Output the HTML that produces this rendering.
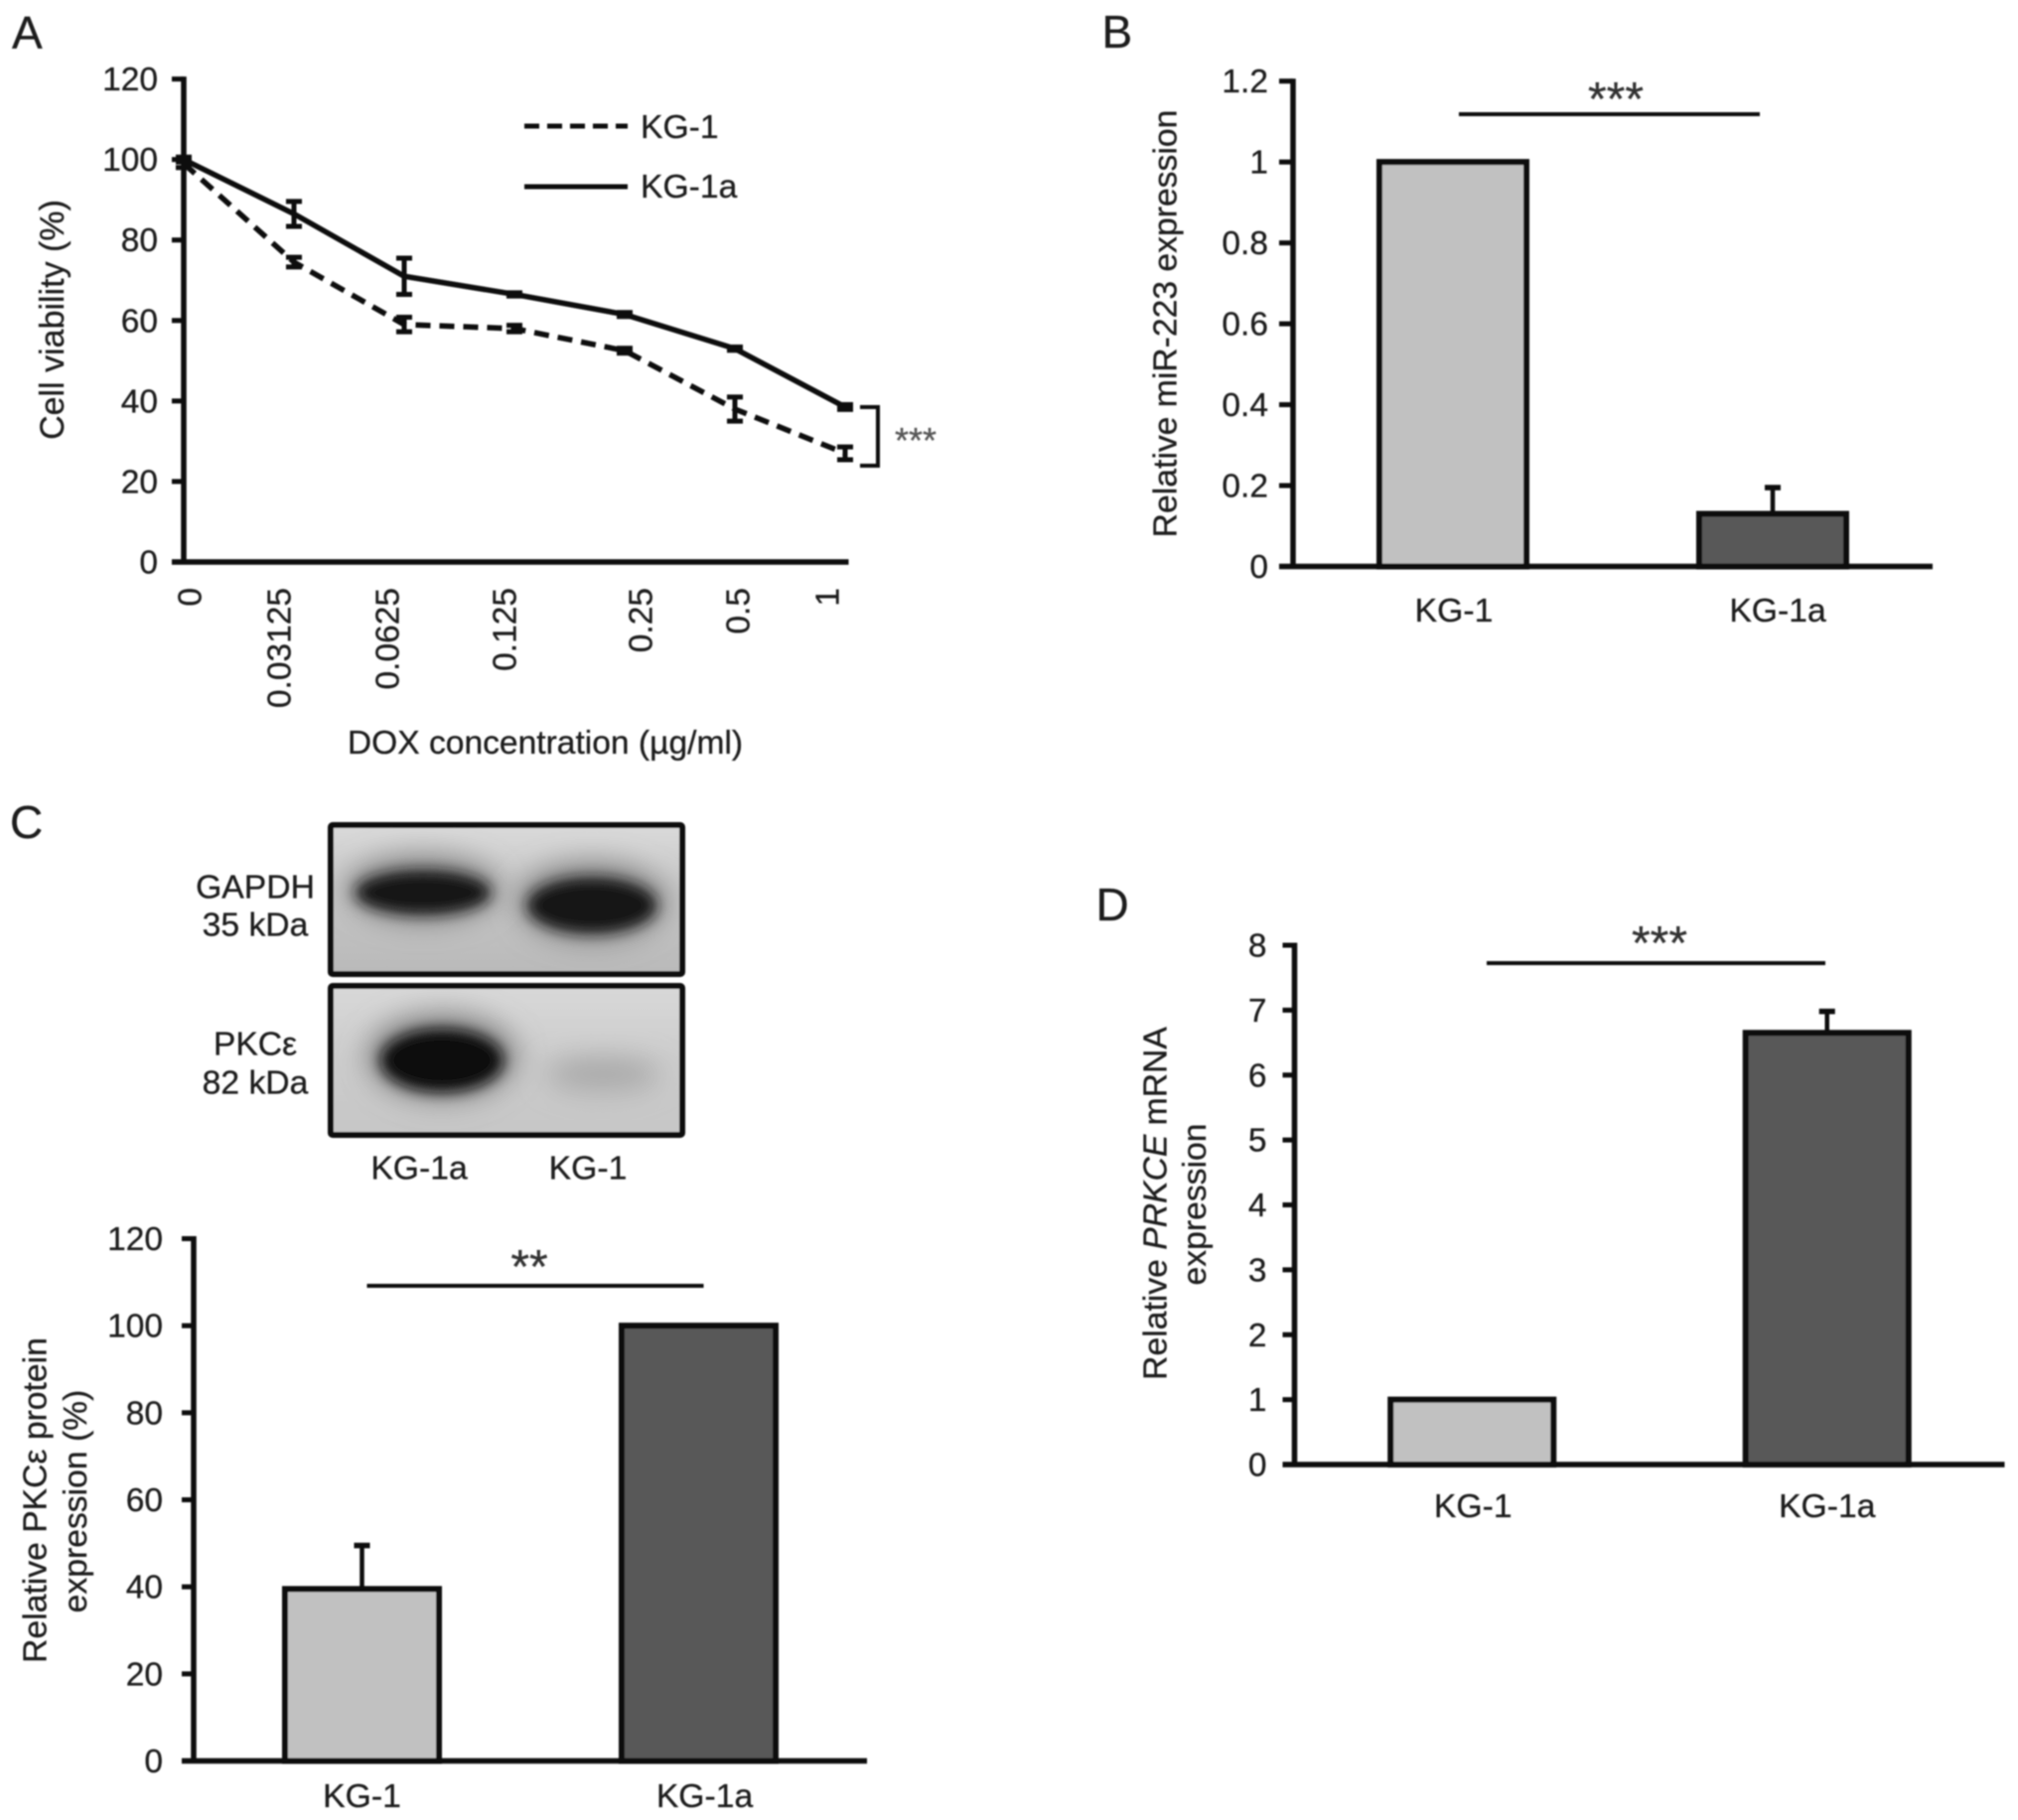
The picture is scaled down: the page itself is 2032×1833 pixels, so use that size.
<!DOCTYPE html>
<html lang="en">
<head>
<meta charset="utf-8">
<title>KG-1 and KG-1a comparison figure</title>
<style>
html,body{margin:0;padding:0;background:#fff;}
svg{display:block;}
text{font-family:"Liberation Sans",sans-serif;fill:#1c1c1c;stroke:#1c1c1c;stroke-width:0.3;}
</style>
</head>
<body>
<svg id="fig" xmlns="http://www.w3.org/2000/svg" width="2032" height="1833" viewBox="0 0 2032 1833">
  <defs>
    <filter id="soft" x="-5%" y="-5%" width="110%" height="110%"><feGaussianBlur stdDeviation="0.8"/></filter>
    <filter id="core" x="-50%" y="-80%" width="200%" height="260%"><feGaussianBlur stdDeviation="7"/></filter>
    <filter id="halo" x="-50%" y="-80%" width="200%" height="260%"><feGaussianBlur stdDeviation="14"/></filter>
    <linearGradient id="blot1" x1="0" y1="0" x2="0" y2="1">
      <stop offset="0" stop-color="#dadada"/><stop offset="0.45" stop-color="#c6c6c6"/><stop offset="1" stop-color="#b9b9b9"/>
    </linearGradient>
    <linearGradient id="blot2" x1="0" y1="0" x2="0" y2="1">
      <stop offset="0" stop-color="#d8d8d8"/><stop offset="0.5" stop-color="#cccccc"/><stop offset="1" stop-color="#c6c6c6"/>
    </linearGradient>
    <clipPath id="clipBlot1"><rect x="333" y="831" width="354" height="150"/></clipPath>
    <clipPath id="clipBlot2"><rect x="333" y="993" width="354" height="150"/></clipPath>
  </defs>

  <g id="root" filter="url(#soft)">
    <text x="12" y="49" font-size="46">A</text>
    <text x="1109.5" y="48" font-size="46">B</text>
    <text x="10" y="844" font-size="46">C</text>
    <text x="1103.5" y="927" font-size="46">D</text>

    <text transform="translate(64 322) rotate(-90)" text-anchor="middle" font-size="34">Cell viability (%)</text>
    <text x="549" y="759" text-anchor="middle" font-size="33.6">DOX concentration (µg/ml)</text>

    <line x1="528" y1="127" x2="632" y2="127" stroke="#111" stroke-width="5" stroke-dasharray="15 8"/>
    <text x="645" y="139" font-size="33.7">KG-1</text>
    <line x1="528" y1="188" x2="632" y2="188" stroke="#111" stroke-width="5"/>
    <text x="645" y="199" font-size="33.7">KG-1a</text>

    <path d="M866 410 H884 V469 H866" fill="none" stroke="#111" stroke-width="4"/>
    <text x="922" y="456" text-anchor="middle" font-size="36" style="fill:#555;stroke:#555">***</text>

    <text transform="translate(1184.5 326) rotate(-90)" text-anchor="middle" font-size="33.7">Relative miR-223 expression</text>
    <line x1="1469" y1="115" x2="1772" y2="115" stroke="#111" stroke-width="4"/>
    <text x="1627" y="116" text-anchor="middle" font-size="48" style="fill:#333;stroke:#333">***</text>

    <text x="257" y="904.5" text-anchor="middle" font-size="33.7">GAPDH</text>
    <text x="257" y="942.5" text-anchor="middle" font-size="33.7">35 kDa</text>
    <text x="257" y="1062.5" text-anchor="middle" font-size="33.7">PKCε</text>
    <text x="257" y="1101.5" text-anchor="middle" font-size="33.7">82 kDa</text>
    <text x="422" y="1187.5" text-anchor="middle" font-size="33.7">KG-1a</text>
    <text x="592" y="1187.5" text-anchor="middle" font-size="33.7">KG-1</text>

    <g>
      <rect x="333" y="831" width="354" height="150" fill="url(#blot1)"/>
      <g clip-path="url(#clipBlot1)">
        <ellipse cx="426" cy="895" rx="78" ry="34" fill="#858585" filter="url(#halo)"/>
        <ellipse cx="596" cy="908" rx="76" ry="40" fill="#858585" filter="url(#halo)"/>
        <ellipse cx="426" cy="899" rx="68" ry="22" fill="#141414" filter="url(#core)"/>
        <ellipse cx="596" cy="912" rx="65" ry="28" fill="#141414" filter="url(#core)"/>
      </g>
      <rect x="333" y="831" width="354" height="150" rx="2" fill="none" stroke="#080808" stroke-width="6"/>
    </g>
    <g>
      <rect x="333" y="993" width="354" height="150" fill="url(#blot2)"/>
      <g clip-path="url(#clipBlot2)">
        <ellipse cx="445" cy="1064" rx="76" ry="44" fill="#858585" filter="url(#halo)"/>
        <ellipse cx="445" cy="1068" rx="62" ry="32" fill="#101010" filter="url(#core)"/>
        <ellipse cx="607" cy="1082" rx="58" ry="17" fill="#a8a8a8" filter="url(#halo)"/>
      </g>
      <rect x="333" y="993" width="354" height="150" rx="2" fill="none" stroke="#080808" stroke-width="6"/>
    </g>

    <text transform="translate(46.5 1511) rotate(-90)" text-anchor="middle" font-size="33.7">Relative PKCε protein</text>
    <text transform="translate(87 1512) rotate(-90)" text-anchor="middle" font-size="33.7">expression (%)</text>
    <line x1="369.5" y1="1295" x2="708.5" y2="1295" stroke="#111" stroke-width="4"/>
    <text x="533" y="1292" text-anchor="middle" font-size="48" style="fill:#333;stroke:#333">**</text>

    <text transform="translate(1174.5 1212) rotate(-90)" text-anchor="middle" font-size="33.7">Relative <tspan font-style="italic">PRKCE</tspan> mRNA</text>
    <text transform="translate(1214 1213) rotate(-90)" text-anchor="middle" font-size="33.7">expression</text>
    <line x1="1497" y1="970" x2="1838" y2="970" stroke="#111" stroke-width="4"/>
    <text x="1671" y="966" text-anchor="middle" font-size="48" style="fill:#333;stroke:#333">***</text>
  </g>
</svg>

<script>
// ---- Panel A data ----
const doseCategories = ['0', '0.03125', '0.0625', '0.125', '0.25', '0.5', '1'];
const kg1Viability = [99, 74.5, 59, 58, 52.5, 38, 27];
const kg1Errors = [1, 1.2, 1.8, 0.8, 0.6, 3, 1.6];
const kg1aViability = [100, 86.5, 71, 66.5, 61.5, 53, 38.5];
const kg1aErrors = [0.6, 3.1, 4.5, 0.4, 0.5, 0.4, 0.6];
const viabilityTicks = ['0', '20', '40', '60', '80', '100', '120'];

// ---- Bar panel data ----
const cellLines = ['KG-1', 'KG-1a'];
const mir223Values = [1, 0.13];
const mir223Errors = [0, 0.065];
const mir223Ticks = ['0', '0.2', '0.4', '0.6', '0.8', '1', '1.2'];
const pkceValues = [39.5, 100];
const pkceErrors = [10, 0];
const pkceTicks = ['0', '20', '40', '60', '80', '100', '120'];
const prkceValues = [1, 6.65];
const prkceErrors = [0, 0.33];
const prkceTicks = ['0', '1', '2', '3', '4', '5', '6', '7', '8'];

// ---- Layout (not data) ----
const doseLabelNudge = [6, -15, -17, -10, 16, 3, -18];
const barFills = ['#c1c1c1', '#595959'];
const SVG_NS = 'http://www.w3.org/2000/svg';
const root = document.getElementById('root');

function make(tag, attrs, parent) {
  const node = document.createElementNS(SVG_NS, tag);
  for (const key in attrs) node.setAttribute(key, attrs[key]);
  (parent || root).appendChild(node);
  return node;
}

function linearScale(domainMax, pixelZero, pixelMax) {
  return function (value) {
    return pixelZero + (value / domainMax) * (pixelMax - pixelZero);
  };
}

function drawAxes(prefix, box, ticks, y) {
  const group = make('g', {});
  
  

  const yAxis = make('line', { x1: box.left, y1: box.top - 2.5, x2: box.left, y2: box.bottom + 2.5, stroke: '#0a0a0a', 'stroke-width': 5.5 }, group);
  
  

  const xAxis = make('line', { x1: box.left - box.tick, y1: box.bottom, x2: box.right, y2: box.bottom, stroke: '#0a0a0a', 'stroke-width': 5.5 }, group);
  
  

  ticks.forEach(function (label) {
    const py = y(parseFloat(label));
    const mark = make('line', { x1: box.left - box.tick, y1: py, x2: box.left, y2: py, stroke: '#0a0a0a', 'stroke-width': 5 }, group);
    
    

    const text = make('text', { x: box.left - box.labelGap, y: py + 11.5, 'text-anchor': 'end', 'font-size': 33.5 }, group);
    text.textContent = label;
    
    
  });
}

function drawBars(prefix, box, ticks, values, errors) {
  const y = linearScale(parseFloat(ticks[ticks.length - 1]), box.bottom, box.top);
  const step = (box.right - box.left) / cellLines.length;
  drawAxes(prefix, box, ticks, y);

  cellLines.forEach(function (name, i) {
    const cx = box.left + step * (i + 0.5);
    const top = y(values[i]);
    const group = make('g', {});
    
    

    if (errors[i] > 0) {
      const errTop = y(values[i] + errors[i]);
      const stem = make('line', { x1: cx, y1: top, x2: cx, y2: errTop, stroke: '#0a0a0a', 'stroke-width': 4.5 }, group);
      
      

      const cap = make('line', { x1: cx - 8, y1: errTop, x2: cx + 8, y2: errTop, stroke: '#0a0a0a', 'stroke-width': 5.5 }, group);
      
      
    }

    const bar = make('rect', { x: cx - box.barWidth / 2, y: top, width: box.barWidth, height: box.bottom - top, fill: barFills[i], stroke: '#0a0a0a', 'stroke-width': 6 }, group);
    
    

    const label = make('text', { x: cx + box.labelNudge[i], y: box.labelBaseline, 'text-anchor': 'middle', 'font-size': 33.7 }, group);
    label.textContent = name;
    
    
  });
}

function drawLinePanel() {
  const box = { left: 185, right: 854.5, top: 79.6, bottom: 566, tick: 12, labelGap: 26 };
  const y = linearScale(parseFloat(viabilityTicks[viabilityTicks.length - 1]), box.bottom, box.top);
  const x = function (i) { return 185 + i * 111; };
  drawAxes('a', box, viabilityTicks, y);

  doseCategories.forEach(function (label, i) {
    const px = x(i) + doseLabelNudge[i];
    const text = make('text', { transform: 'translate(' + (px + 11.5) + ' 592) rotate(-90)', 'text-anchor': 'end', 'font-size': 33.5 });
    text.textContent = label;
    
    
  });

  function drawSeries(name, values, errors, dash) {
    const group = make('g', {});
    
    

    const points = values.map(function (v, i) { return x(i) + ',' + y(v); }).join(' ');
    const attrs = { points: points, fill: 'none', stroke: '#0a0a0a', 'stroke-width': 5.5 };
    if (dash) attrs['stroke-dasharray'] = dash;
    const line = make('polyline', attrs, group);
    
    

    values.forEach(function (v, i) {
      const px = x(i);
      const hi = y(v + errors[i]);
      const lo = y(v - errors[i]);
      const path = 'M' + (px - 8) + ' ' + hi + 'H' + (px + 8) + 'M' + px + ' ' + hi + 'V' + lo + 'M' + (px - 8) + ' ' + lo + 'H' + (px + 8);
      const bar = make('path', { d: path, fill: 'none', stroke: '#0a0a0a', 'stroke-width': 5 }, group);
      
      
    });
  }

  drawSeries('kg-1', kg1Viability, kg1Errors, '15 9');
  drawSeries('kg-1a', kg1aViability, kg1aErrors, '');
}

drawLinePanel();
drawBars('b', { left: 1302, right: 1946, top: 81.7, bottom: 570.5, tick: 14, labelGap: 25, barWidth: 148, labelBaseline: 626, labelNudge: [1, 5] }, mir223Ticks, mir223Values, mir223Errors);
drawBars('c', { left: 195, right: 873, top: 1247.5, bottom: 1773.5, tick: 12, labelGap: 31, barWidth: 155, labelBaseline: 1820, labelNudge: [0, 6] }, pkceTicks, pkceValues, pkceErrors);
drawBars('d', { left: 1303.5, right: 2018.5, top: 952, bottom: 1475, tick: 12, labelGap: 28, barWidth: 164, labelBaseline: 1528, labelNudge: [1, 0] }, prkceTicks, prkceValues, prkceErrors);
</script>
</body>
</html>
